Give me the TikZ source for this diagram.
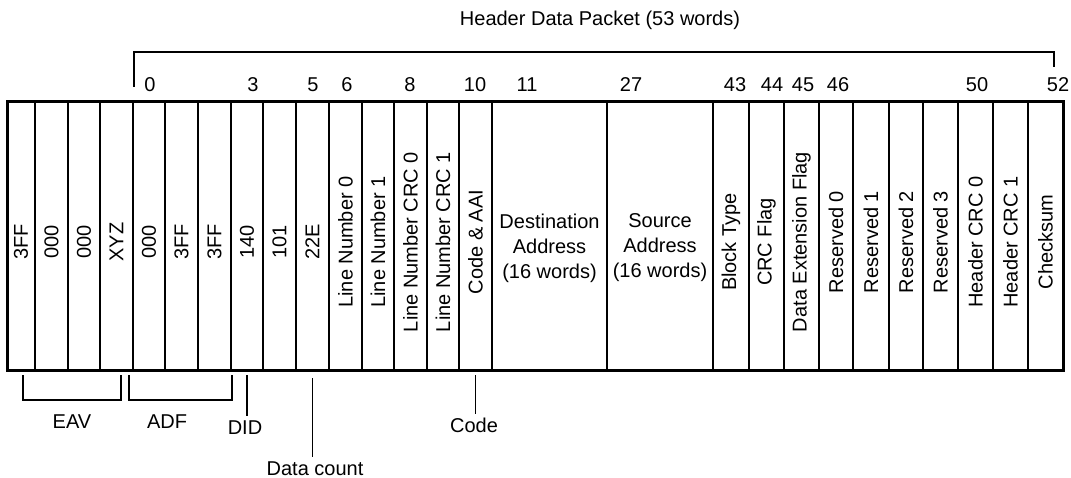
\documentclass[tikz,border=0pt]{standalone}
\usepackage{fontspec}
\setmainfont{Liberation Sans}
\usetikzlibrary{positioning,calc}

\newcommand{\vtext}[1]{\rotatebox{90}{#1\hspace*{12pt}}}

\tikzset{
  field/.style={draw, line width=1.2pt, minimum height=268pt, inner sep=0pt, outer sep=0pt},
  idx/.style={anchor=base},
  lbl/.style={anchor=base},
}

\begin{document}
\begin{tikzpicture}[x=1pt,y=-1pt,line width=1.2pt,font=\fontsize{20}{25}\selectfont]
\useasboundingbox (0,0) rectangle (1071,478);
% packet words
\node[field,minimum width=28pt] (f1) at (21,236) {\vtext{3FF}};
\node[field,minimum width=33pt,right=0pt of f1] (f2) {\vtext{000}};
\node[field,minimum width=32pt,right=0pt of f2] (f3) {\vtext{000}};
\node[field,minimum width=33pt,right=0pt of f3] (f4) {\vtext{XYZ}};
\node[field,minimum width=32pt,right=0pt of f4] (f5) {\vtext{000}};
\node[field,minimum width=33pt,right=0pt of f5] (f6) {\vtext{3FF}};
\node[field,minimum width=33pt,right=0pt of f6] (f7) {\vtext{3FF}};
\node[field,minimum width=32pt,right=0pt of f7] (f8) {\vtext{140}};
\node[field,minimum width=33pt,right=0pt of f8] (f9) {\vtext{101}};
\node[field,minimum width=33pt,right=0pt of f9] (f10) {\vtext{22E}};
\node[field,minimum width=33pt,right=0pt of f10] (f11) {\vtext{Line Number 0}};
\node[field,minimum width=32pt,right=0pt of f11] (f12) {\vtext{Line Number 1}};
\node[field,minimum width=33pt,right=0pt of f12] (f13) {\vtext{Line Number CRC 0}};
\node[field,minimum width=32pt,right=0pt of f13] (f14) {\vtext{Line Number CRC 1}};
\node[field,minimum width=33pt,right=0pt of f14] (f15) {\vtext{Code \& AAI}};
\node[field,minimum width=115pt,right=0pt of f15,
  label={[align=center,yshift=-12pt]center:Destination\\Address\\(16 words)}] (f16) {};
\node[field,minimum width=106pt,right=0pt of f16,
  label={[align=center,yshift=-12pt]center:Source\\Address\\(16 words)}] (f17) {};
\node[field,minimum width=36pt,right=0pt of f17] (f18) {\vtext{Block Type}};
\node[field,minimum width=35pt,right=0pt of f18] (f19) {\vtext{CRC Flag}};
\node[field,minimum width=35pt,right=0pt of f19] (f20) {\vtext{Data Extension Flag}};
\node[field,minimum width=34pt,right=0pt of f20] (f21) {\vtext{Reserved 0}};
\node[field,minimum width=36pt,right=0pt of f21] (f22) {\vtext{Reserved 1}};
\node[field,minimum width=34pt,right=0pt of f22] (f23) {\vtext{Reserved 2}};
\node[field,minimum width=35pt,right=0pt of f23] (f24) {\vtext{Reserved 3}};
\node[field,minimum width=35pt,right=0pt of f24] (f25) {\vtext{Header CRC 0}};
\node[field,minimum width=35pt,right=0pt of f25] (f26) {\vtext{Header CRC 1}};
\node[field,minimum width=35pt,right=0pt of f26] (f27) {\vtext{Checksum}};
\draw[line width=3pt] (f1.north west) rectangle (f27.south east);
% word numbers
\node[idx] (n0) at (150,92) {0};
\node[idx] (n3) at (253,92) {3};
\node[idx] (n5) at (313,92) {5};
\node[idx] (n6) at (347,92) {6};
\node[idx] (n8) at (410,92) {8};
\node[idx] (n10) at (475,92) {10};
\node[idx] (n11) at (527,92) {11};
\node[idx] (n27) at (631,92) {27};
\node[idx] (n43) at (735,92) {43};
\node[idx] (n44) at (772,92) {44};
\node[idx] (n45) at (803,92) {45};
\node[idx] (n46) at (838,92) {46};
\node[idx] (n50) at (977,92) {50};
\node[idx] (n52) at (1058,92) {52};
% header bracket
\node[lbl] (title) at (600,26) {Header Data Packet (53 words)};
\coordinate (hl) at (134,87);
\coordinate (ht) at (1054,52);
\coordinate (hr) at (1054,67);
\draw (hl) |- (ht) -- (hr);
% bottom labels
\draw ($(f1.south west)+(16,5)$) |- ($(f4.south east)+(-12,30)$) -- ($(f4.south east)+(-12,5)$);
\draw ($(f5.south west)+(-4,5)$) |- ($(f7.south east)+(1,30)$) -- ($(f7.south east)+(1,5)$);
\node[lbl] (eav) at (72,428) {EAV};
\node[lbl] (adf) at (167,428) {ADF};
\node[lbl] (did) at (245,434) {DID};
\node[lbl] (dcount) at (315,475) {Data count};
\node[lbl] (code) at (474,432) {Code};
\draw ($(f8.south)+(0,5)$) -- (f8.south |- did.north);
\draw ($(f10.south)+(0,8)$) -- (f10.south |- dcount.north);
\draw ($(f15.south)+(0,5)$) -- (f15.south |- code.north);
\end{tikzpicture}
\end{document}
